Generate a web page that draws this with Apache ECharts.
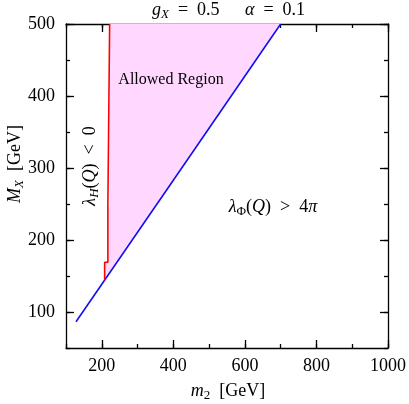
<!DOCTYPE html>
<html><head><meta charset="utf-8">
<script src="https://cdn.jsdelivr.net/npm/echarts@6/dist/echarts.min.js"></script>
<style>html,body{margin:0;padding:0;background:#fff}#c{width:409px;height:404px}</style>
</head><body><div id="c"></div>
<script>
// Tick labels
const xMajorTicks = [200, 400, 600, 800, 1000];
const yMajorTicks = [100, 200, 300, 400, 500];
// Blue boundary: lambda_Phi(Q) = 4 pi
const blueM2 = [128, 400, 700];
const blueMX = [86.5, 283, 500];
// Red boundary: lambda_H(Q) = 0
const redM2 = [208, 208, 217, 217, 222, 222];
const redMX = [144, 169, 169, 246, 246, 500];

const FONT = "'Liberation Serif', 'DejaVu Serif', serif";
const axisLineStyle = { color: '#000', width: 1.3 };
const fmt = v => String(v);

function mkX(pos, major, labels) {
  return {
    type: 'value', position: pos, min: 100, max: 1000, interval: 100,
    axisLine: { show: !major, lineStyle: axisLineStyle },
    axisTick: major ? { show: true, inside: true, length: 8, customValues: xMajorTicks, lineStyle: axisLineStyle }
                    : { show: true, inside: true, length: 4, lineStyle: axisLineStyle },
    axisLabel: labels ? { show: true, customValues: xMajorTicks, formatter: fmt, color: '#000', fontFamily: FONT, fontSize: 18, margin: 9 } : { show: false },
    splitLine: { show: false }
  };
}
function mkY(pos, major, labels) {
  return {
    type: 'value', position: pos, min: 50, max: 500, interval: 50,
    axisLine: { show: !major, lineStyle: axisLineStyle },
    axisTick: major ? { show: true, inside: true, length: 8, customValues: yMajorTicks, lineStyle: axisLineStyle }
                    : { show: true, inside: true, length: 4, lineStyle: axisLineStyle },
    axisLabel: labels ? { show: true, customValues: yMajorTicks, formatter: fmt, color: '#000', fontFamily: FONT, fontSize: 18, margin: 11 } : { show: false },
    splitLine: { show: false }
  };
}

const rich = {
  t: { fontFamily: FONT, fontSize: 18, color: '#000', lineHeight: 22 },
  i: { fontFamily: FONT, fontSize: 18, fontStyle: 'italic', color: '#000', lineHeight: 22 },
  s: { fontFamily: FONT, fontSize: 13, fontStyle: 'italic', color: '#000', verticalAlign: 'bottom', lineHeight: 12 },
  su: { fontFamily: FONT, fontSize: 13, color: '#000', verticalAlign: 'bottom', lineHeight: 12 }
};

const chart = echarts.init(document.getElementById('c'));
chart.setOption({
  animation: false,
  backgroundColor: '#fff',
  grid: { left: 66, right: 19, top: 24, bottom: 56, containLabel: false },
  xAxis: [mkX('bottom', false, true), mkX('bottom', true, false), mkX('top', false, false), mkX('top', true, false)],
  yAxis: [mkY('left', false, true), mkY('left', true, false), mkY('right', false, false), mkY('right', true, false)],
  series: [
    {
      type: 'custom', xAxisIndex: 0, yAxisIndex: 0, z: 1, silent: true,
      data: [[redM2[0], redMX[0]]],
      renderItem: function (params, api) {
        const pts = [];
        for (let i = 0; i < redM2.length; i++) pts.push(api.coord([redM2[i], redMX[i]]));
        for (let i = blueM2.length - 1; i >= 0; i--) {
          if (blueMX[i] > redMX[0]) pts.push(api.coord([blueM2[i], blueMX[i]]));
        }
        return { type: 'polygon', shape: { points: pts }, style: { fill: '#ffd7ff', stroke: null } };
      }
    },
    {
      type: 'line', xAxisIndex: 0, yAxisIndex: 0, z: 3, showSymbol: false, silent: true,
      data: blueM2.map((v, i) => [v, blueMX[i]]),
      lineStyle: { color: '#1010f0', width: 1.6 }
    },
    {
      type: 'line', xAxisIndex: 0, yAxisIndex: 0, z: 4, showSymbol: false, silent: true,
      data: redM2.map((v, i) => [v, redMX[i]]),
      lineStyle: { color: '#ff0000', width: 1.6 }
    }
  ],
  graphic: [
    { type: 'text', x: 152, y: 10, z: 10, style: { text: '{i|g}{s|X}{t|  =  0.5}', rich: rich, align: 'left', verticalAlign: 'middle' } },
    { type: 'text', x: 245, y: 10, z: 10, style: { text: '{i|α}{t|  =  0.1}', rich: rich, align: 'left', verticalAlign: 'middle' } },
    { type: 'text', x: 171, y: 80, z: 10, style: { text: 'Allowed Region', font: '16px ' + FONT, fill: '#000', align: 'center', verticalAlign: 'middle' } },
    { type: 'text', x: 90, y: 166, z: 10, rotation: Math.PI / 2, style: { text: '{i|λ}{s|H}{t|(}{i|Q}{t|)  <  0}', rich: rich, align: 'center', verticalAlign: 'middle' } },
    { type: 'text', x: 273, y: 207, z: 10, style: { text: '{i|λ}{su|Φ}{t|(}{i|Q}{t|)  >  4}{i|π}', rich: rich, align: 'center', verticalAlign: 'middle' } },
    { type: 'text', x: 15, y: 164, z: 10, rotation: Math.PI / 2, style: { text: '{i|M}{s|X}{t|  [GeV]}', rich: rich, align: 'center', verticalAlign: 'middle' } },
    { type: 'text', x: 228, y: 391, z: 10, style: { text: '{i|m}{su|2}{t|  [GeV]}', rich: rich, align: 'center', verticalAlign: 'middle' } }
  ]
});
</script>
</body></html>
